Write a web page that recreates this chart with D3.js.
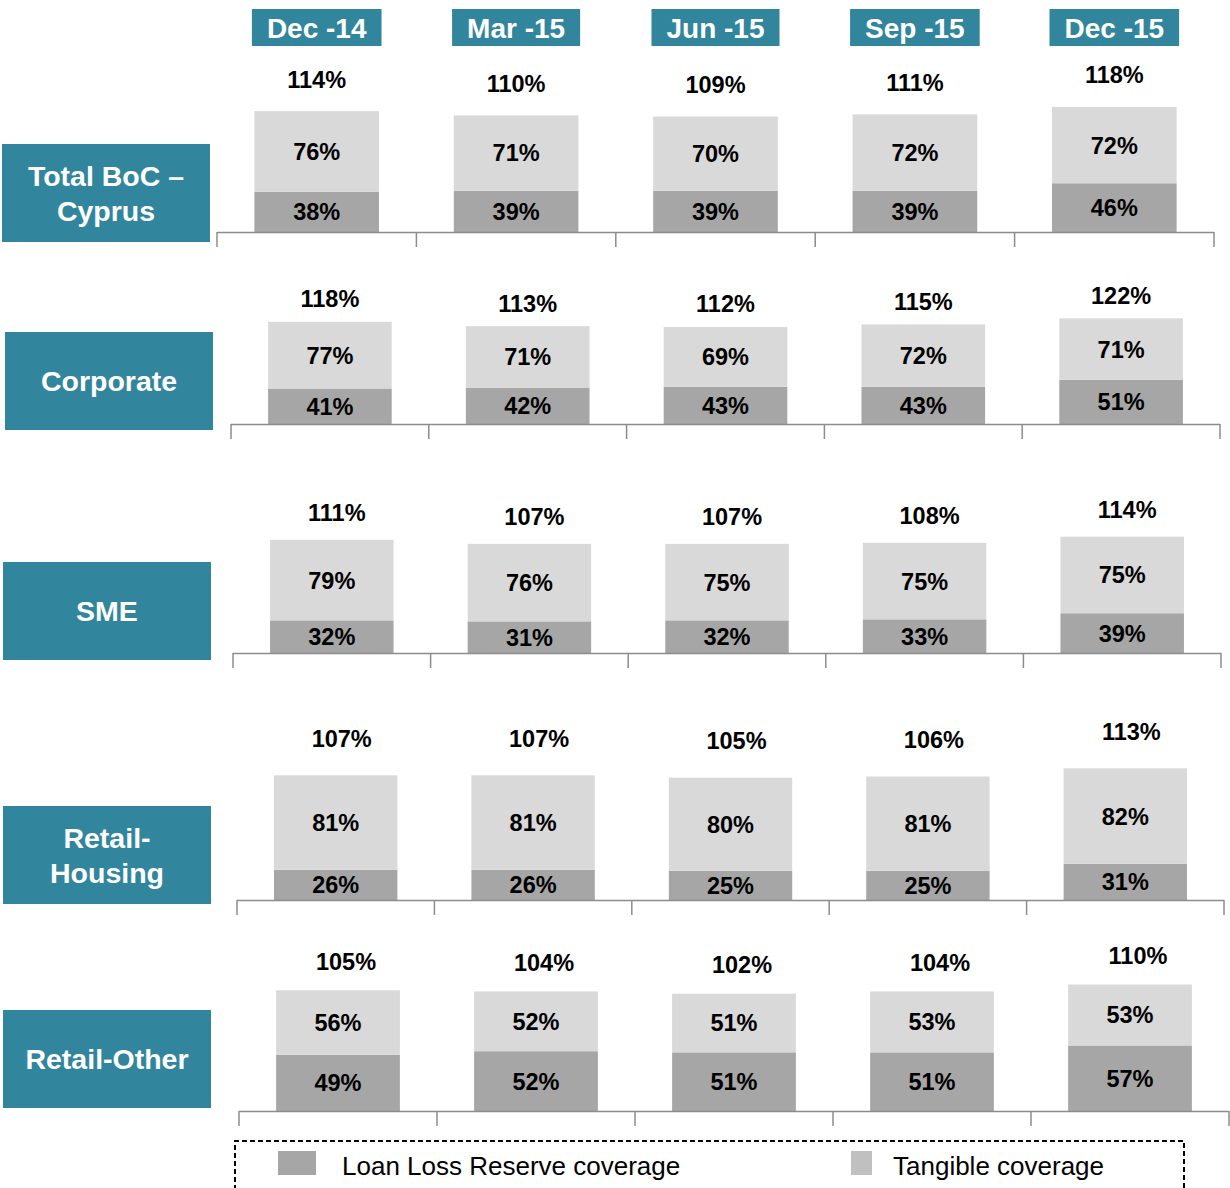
<!DOCTYPE html>
<html>
<head>
    <meta charset="utf-8">
    <title>Coverage ratios by segment</title>
    <style>
        body { margin: 0; background: #fff; }
        svg { display: block; font-family: "Liberation Sans", Arial, sans-serif; }
        .axis-line { stroke: #8c8c8c; stroke-width: 1.5px; fill: none; }
        .val { font-size: 23.5px; font-weight: bold; fill: #000; text-anchor: middle; }
        .hdr { font-size: 28px; font-weight: bold; fill: #fff; text-anchor: middle; }
        .rowlab { font-size: 28.5px; font-weight: bold; fill: #fff; text-anchor: middle; }
        .leg { font-size: 26px; fill: #000; }
    </style>
    <script src="https://d3js.org/d3.v7.min.js"></script>
</head>
<body>
    <div id="chart"></div>
    <script>
        // data
        const periods = ["Dec -14", "Mar -15", "Jun -15", "Sep -15", "Dec -15"];
        const segments = ["Total BoC –\nCyprus", "Corporate", "SME", "Retail-\nHousing", "Retail-Other"];
        const loanLossReserve = [
            [38, 39, 39, 39, 46],
            [41, 42, 43, 43, 51],
            [32, 31, 32, 33, 39],
            [26, 26, 25, 25, 31],
            [49, 52, 51, 51, 57]
        ];
        const tangible = [
            [76, 71, 70, 72, 72],
            [77, 71, 69, 72, 71],
            [79, 76, 75, 75, 75],
            [81, 81, 80, 81, 82],
            [56, 52, 51, 53, 53]
        ];
        const totals = [
            [114, 110, 109, 111, 118],
            [118, 113, 112, 115, 122],
            [111, 107, 107, 108, 114],
            [107, 107, 105, 106, 113],
            [105, 104, 102, 104, 110]
        ];
        const legendLabels = ["Loan Loss Reserve coverage", "Tangible coverage"];

        // layout for each panel row
        const rows = [
            { x0: 217, x1: 1214, base: 232, k: 1.06,  gap: 32, dx: 0, boxX: 2, boxY: 144 },
            { x0: 231, x1: 1220, base: 424, k: 0.866, gap: 23, dx: 0, boxX: 5, boxY: 332 },
            { x0: 233, x1: 1221, base: 653, k: 1.02,  gap: 27, dx: 5, boxX: 3, boxY: 562 },
            { x0: 237, x1: 1224, base: 900, k: 1.165, gap: 37, dx: 6, boxX: 3, boxY: 806 },
            { x0: 239, x1: 1229, base: 1111, k: 1.15, gap: 29, dx: 8, boxX: 3, boxY: 1010 }
        ];

        const width = 1230, height = 1188;
        const teal = "#31859c", dark = "#a6a6a6", light = "#d9d9d9";

        const svg = d3.select("#chart").append("svg")
            .attr("width", width)
            .attr("height", height);

        segments.forEach((seg, r) => {
            const L = rows[r];
            const x = d3.scaleBand().domain(periods).range([L.x0, L.x1]).padding(0);
            const y = d3.scaleLinear().domain([0, 100]).range([L.base, L.base - 100 * L.k]);
            const bw = x.bandwidth() * 0.625;
            const g = svg.append("g");

            const cells = periods.map((p, i) => ({
                p, llr: loanLossReserve[r][i], tan: tangible[r][i], tot: totals[r][i]
            }));

            // dark bottom segment
            g.selectAll(".llr").data(cells).enter().append("rect")
                .attr("x", d => x(d.p) + (x.bandwidth() - bw) / 2)
                .attr("width", bw)
                .attr("y", d => y(d.llr))
                .attr("height", d => y(0) - y(d.llr))
                .attr("fill", dark);

            // light top segment
            g.selectAll(".tan").data(cells).enter().append("rect")
                .attr("x", d => x(d.p) + (x.bandwidth() - bw) / 2)
                .attr("width", bw)
                .attr("y", d => y(d.llr + d.tan))
                .attr("height", d => y(d.llr) - y(d.llr + d.tan))
                .attr("fill", light);

            const cx = d => x(d.p) + x.bandwidth() / 2;

            g.selectAll(".vl").data(cells).enter().append("text")
                .attr("class", "val")
                .attr("x", cx)
                .attr("y", d => (y(0) + y(d.llr)) / 2)
                .attr("dy", "0.36em")
                .text(d => d.llr + "%");

            g.selectAll(".vt").data(cells).enter().append("text")
                .attr("class", "val")
                .attr("x", cx)
                .attr("y", d => (y(d.llr) + y(d.llr + d.tan)) / 2)
                .attr("dy", "0.36em")
                .text(d => d.tan + "%");

            g.selectAll(".vs").data(cells).enter().append("text")
                .attr("class", "val")
                .attr("x", d => cx(d) + L.dx)
                .attr("y", d => y(d.tot) - L.gap)
                .attr("dy", "0.36em")
                .text(d => d.tot + "%");

            // category axis: baseline with ticks at band edges
            const edges = periods.map(p => x(p)).concat([L.x1]);
            g.append("line").attr("class", "axis-line")
                .attr("x1", L.x0).attr("x2", L.x1)
                .attr("y1", L.base + 0.5).attr("y2", L.base + 0.5);
            g.selectAll(".tk").data(edges).enter().append("line")
                .attr("class", "axis-line")
                .attr("x1", d => d).attr("x2", d => d)
                .attr("y1", L.base).attr("y2", L.base + 15);

            // row label box
            const bx = L.boxX, by = L.boxY, bwid = 208, bh = 98;
            g.append("rect")
                .attr("x", bx).attr("y", by)
                .attr("width", bwid).attr("height", bh)
                .attr("fill", teal);
            const lines = seg.split("\n");
            const lh = 35;
            lines.forEach((t, j) => {
                g.append("text")
                    .attr("class", "rowlab")
                    .attr("x", bx + bwid / 2)
                    .attr("y", by + bh / 2 + (j - (lines.length - 1) / 2) * lh)
                    .attr("dy", "0.36em")
                    .text(t);
            });
        });

        // period headers, centred over the first panel
        const xh = d3.scaleBand().domain(periods).range([rows[0].x0, rows[0].x1]);
        periods.forEach(p => {
            const g = svg.append("g");
            const t = g.append("text")
                .attr("class", "hdr")
                .attr("x", xh(p) + xh.bandwidth() / 2)
                .attr("y", 28)
                .attr("dy", "0.36em")
                .text(p);
            const w = t.node().getComputedTextLength() + 30;
            g.insert("rect", "text")
                .attr("x", xh(p) + xh.bandwidth() / 2 - w / 2)
                .attr("y", 9)
                .attr("width", w)
                .attr("height", 37)
                .attr("fill", teal);
        });

        // legend
        svg.append("path")
            .attr("d", "M235,1190 V1141 H1184 V1190")
            .attr("fill", "none")
            .attr("stroke", "#000")
            .attr("stroke-width", 2)
            .attr("stroke-dasharray", "5,3");

        const legendItems = [
            { label: legendLabels[0], color: dark, x: 278, w: 38 },
            { label: legendLabels[1], color: "#c0c0c0", x: 851, w: 21 }
        ];
        legendItems.forEach(d => {
            svg.append("rect")
                .attr("x", d.x).attr("y", 1151)
                .attr("width", d.w).attr("height", 24)
                .attr("fill", d.color);
            svg.append("text")
                .attr("class", "leg")
                .attr("x", d.x + d.w + (d.w > 30 ? 26 : 21))
                .attr("y", 1175)
                .text(d.label);
        });
    </script>
</body>
</html>
